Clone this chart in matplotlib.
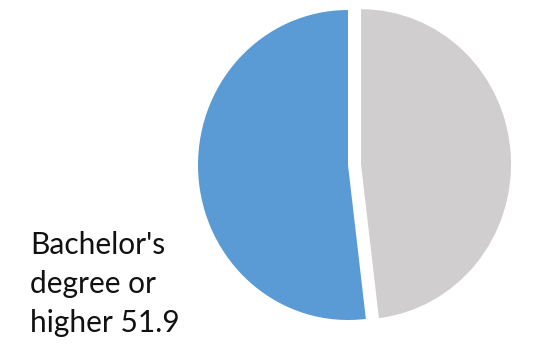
import matplotlib.pyplot as plt

# data
labels = ["Bachelor's degree or higher", "Other"]
values = [51.9, 48.1]
colors = ['#5B9BD5', '#D0CECE']
explode = [0, 0.087]

fig = plt.figure(figsize=(5.42, 3.5), dpi=100)
# axes placed so the pie (radius 1) sits where it does in the reference
ax = fig.add_axes([198/542, 30/350, 300/542, 310/350])
wedges, _ = ax.pie(values, colors=colors, explode=explode, startangle=90,
                   counterclock=True, radius=1.0)
for w in wedges:
    w.set_clip_on(False)
ax.set_xlim(-1, 1)
ax.set_ylim(-1, 1)
ax.set_aspect('auto')
ax.axis('off')

fig.text(30/542, 1 - 231/350, "Bachelor's\ndegree or\nhigher %.1f" % values[0],
         ha='left', va='top', fontsize=21.5, family=['Lato', 'DejaVu Sans'],
         linespacing=1.47, color='#111111')

fig.savefig('out.png', dpi=100)
